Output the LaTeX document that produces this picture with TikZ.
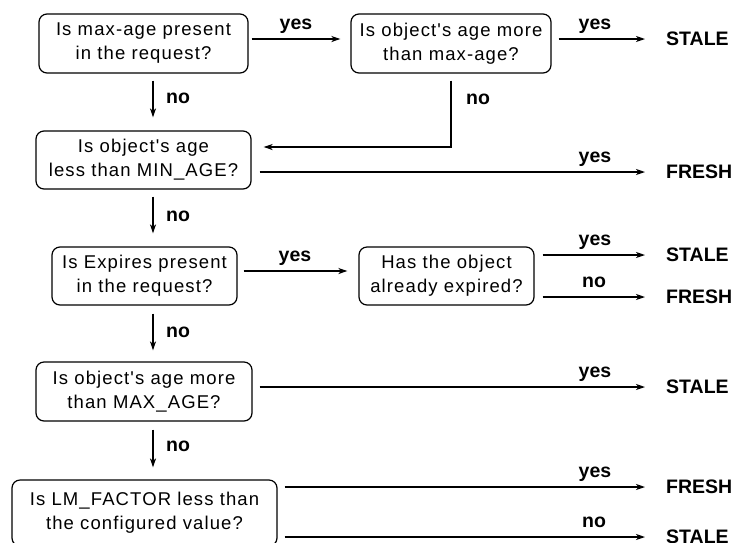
\documentclass[tikz,border=0pt]{standalone}
\usepackage{fontspec}
\setmainfont{Liberation Sans}
\newfontfamily\boxfont[LetterSpace=6]{Liberation Sans}
\usetikzlibrary{calc,arrows.meta}
\begin{document}
\begin{tikzpicture}[x=1pt,y=-1pt,
  qbox/.style={draw, line width=1.2pt, rounded corners=8pt, align=center,
    inner sep=0pt, minimum width=#1,
    font=\boxfont\fontsize{18.5}{24}\selectfont},
  outc/.style={anchor=west, inner sep=0pt, font=\bfseries\fontsize{19.5}{22}\selectfont},
  lab/.style={anchor=base, inner sep=0pt, font=\bfseries\fontsize{19.5}{22}\selectfont},
  labw/.style={anchor=base west, inner sep=0pt, font=\bfseries\fontsize{19.5}{22}\selectfont},
  arr/.style={line width=1.4pt, -{Stealth[length=9pt,width=6pt,inset=2.5pt]}},
  ln/.style={line width=1.4pt}]
\fill[white] (0,0) rectangle (736,542);
\useasboundingbox (0,0) rectangle (736,542);

% decision boxes
\node[qbox=209pt, minimum height=59pt] (b1) at (143.5,43.5) {Is max-age present\\in the request?};
\node[qbox=200pt, minimum height=59pt] (b2) at (451,43.5) {Is object's age more\\than max-age?};
\node[qbox=215pt, minimum height=58pt] (b3) at (143.5,160) {Is object's age\\less than MIN\_AGE?};
\node[qbox=185pt, minimum height=58pt] (b4) at (144.5,276) {Is Expires present\\in the request?};
\node[qbox=175pt, minimum height=58pt] (b5) at (446.5,276) {Has the object\\already expired?};
\node[qbox=216pt, minimum height=59pt] (b6) at (144,391.5) {Is object's age more\\than MAX\_AGE?};
\node[qbox=265pt, minimum height=66pt] (b7) at (144.5,513) {Is LM\_FACTOR less than\\the configured value?};

% outcomes
\node[outc] (o1) at (666,39) {STALE};
\node[outc] (o2) at (666,172) {FRESH};
\node[outc] (o3) at (666,255) {STALE};
\node[outc] (o4) at (666,297) {FRESH};
\node[outc] (o5) at (666,387) {STALE};
\node[outc] (o6) at (666,487) {FRESH};
\node[outc] (o7) at (666,537) {STALE};

\coordinate (col) at (153,0);

% connectors
\draw[arr] ($(b1.east |- o1.west)+(3,0)$) -- ($(b2.west |- o1.west)+(-10,0)$);
\draw[arr] ($(b2.east |- o1.west)+(7,0)$) -- ($(o1.west)+(-21,0)$);
\draw[arr] ($(col |- b1.south)+(0,7)$) -- ($(col |- b3.north)+(0,-13)$);
\draw[arr] ($(b2.south)+(0,7)$) |- ($(b3.east)+(12,-13)$);
\draw[arr] ($(b3.east |- o2.west)+(8,0)$) -- ($(o2.west)+(-21,0)$);
\draw[arr] ($(col |- b3.south)+(0,7)$) -- ($(col |- b4.north)+(0,-13)$);
\draw[arr] ($(b4.east)+(6,-5)$) -- ($(b5.west)+(-11,-5)$);
\draw[arr] ($(b5.east |- o3.west)+(8,0)$) -- ($(o3.west)+(-21,0)$);
\draw[arr] ($(b5.east |- o4.west)+(8,0)$) -- ($(o4.west)+(-21,0)$);
\draw[arr] ($(col |- b4.south)+(0,8)$) -- ($(col |- b6.north)+(0,-11)$);
\draw[arr] ($(b6.east |- o5.west)+(7,0)$) -- ($(o5.west)+(-21,0)$);
\draw[arr] ($(col |- b6.south)+(0,8)$) -- ($(col |- b7.north)+(0,-12)$);
\draw[arr] ($(b7.east |- o6.west)+(7,0)$) -- ($(o6.west)+(-21,0)$);
\draw[arr] ($(b7.east |- o7.west)+(7,0)$) -- ($(o7.west)+(-21,0)$);

% labels
\node[lab] (l1) at (296,29) {yes};
\node[lab] (l2) at (595,29) {yes};
\node[labw] (l3) at (166,103) {no};
\node[lab] (l4) at (478,104) {no};
\node[lab] (l5) at (595,162) {yes};
\node[labw] (l6) at (166,221) {no};
\node[lab] (l7) at (295,261) {yes};
\node[lab] (l8) at (595,245) {yes};
\node[lab] (l9) at (594,287) {no};
\node[labw] (l10) at (166,337) {no};
\node[lab] (l11) at (595,377) {yes};
\node[labw] (l12) at (166,451) {no};
\node[lab] (l13) at (595,477) {yes};
\node[lab] (l14) at (594,527) {no};
\end{tikzpicture}
\end{document}
